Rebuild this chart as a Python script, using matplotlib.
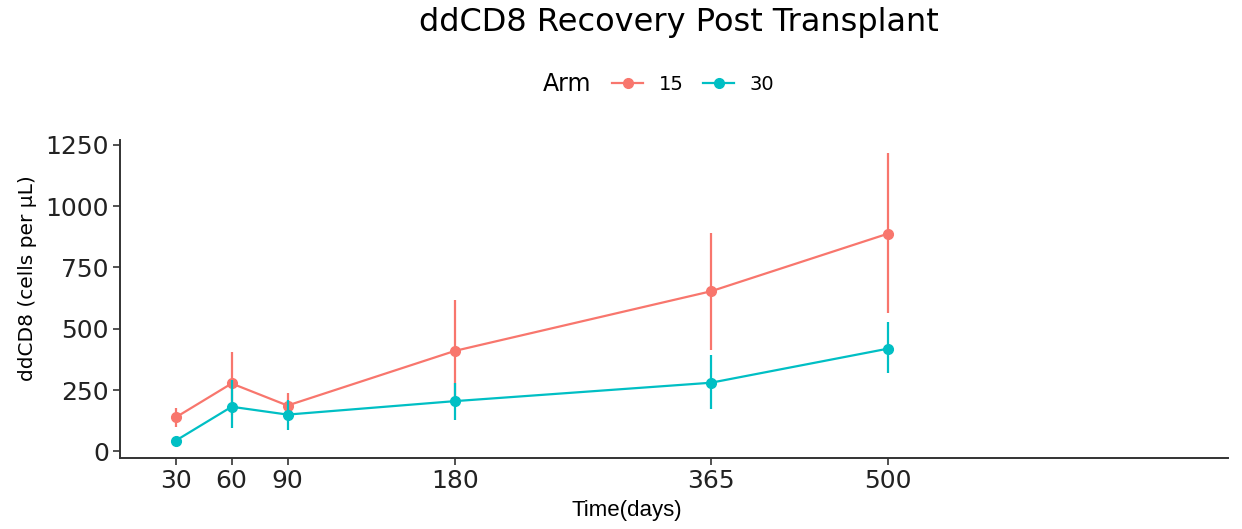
import numpy as np
import matplotlib.pyplot as plt
from matplotlib.lines import Line2D

plt.rcParams['font.family'] = ['DejaVu Sans']

# data
days = [30, 60, 90, 180, 365, 500]
tick_days = [30, 60, 90, 180, 365, 500]
arm15_mean = [139, 277, 187, 410, 653, 888]
arm15_lo = [98, 150, 150, 200, 413, 563]
arm15_hi = [177, 406, 239, 619, 891, 1216]
arm30_mean = [44, 182, 150, 205, 280, 419]
arm30_lo = [30, 96, 89, 127, 171, 318]
arm30_hi = [60, 290, 210, 280, 392, 526]
arms = ['15', '30']
colors = ['#F8766D', '#00BFC4']

# the time axis in the source is not linear: piecewise mapping
day_knots = [0, 180, 365, 500, 760]
pos_knots = [0, 335, 591, 768, 1108]


def fwd(x):
    return np.interp(x, day_knots, pos_knots)


def inv(x):
    return np.interp(x, pos_knots, day_knots)


fig = plt.figure(figsize=(12.42, 5.29), dpi=100)
ax = fig.add_axes([120 / 1242, 1 - 458 / 529, (1228 - 120) / 1242, (458 - 140) / 529])
ax.set_xscale('function', functions=(fwd, inv))

series = [(arm15_mean, arm15_lo, arm15_hi), (arm30_mean, arm30_lo, arm30_hi)]
for (m, lo, hi), c in zip(series, colors):
    ax.vlines(days, lo, hi, color=c, linewidth=1.6)
    ax.plot(days, m, color=c, linewidth=1.6, marker='o', markersize=7)

ax.set_xlim(0, 760)
ax.set_ylim(-27, 1270)
ax.set_xticks(tick_days)
ax.set_xticklabels([str(d) for d in tick_days])
ax.set_yticks([0, 250, 500, 750, 1000, 1250])
ax.minorticks_off()

for s in ['top', 'right']:
    ax.spines[s].set_visible(False)
for s in ['left', 'bottom']:
    ax.spines[s].set_linewidth(1.4)
    ax.spines[s].set_color('#333333')
ax.tick_params(axis='both', labelsize=18, length=5, width=1.2, color='#333333',
               labelcolor='#222222', pad=3)

ax.set_xlabel('Time(days)', fontsize=16, family='Liberation Sans', va='top')
ax.xaxis.set_label_coords((627 - 120) / 1108, -0.132)
ax.set_ylabel('ddCD8 (cells per µL)', fontsize=14.5)
ax.yaxis.set_label_coords((37 - 120) / 1108, 0.566)

fig.text(679 / 1242, 1 - 22 / 529, 'ddCD8 Recovery Post Transplant', ha='center', va='center',
         fontsize=23)

fig.text(543 / 1242, 1 - 84 / 529, 'Arm', ha='left', va='center', fontsize=17)
handles = [Line2D([0], [0], color=c, linewidth=1.6, marker='o', markersize=7) for c in colors]
fig.legend(handles, arms, loc='center left', bbox_to_anchor=(612 / 1242, 1 - 84 / 529),
           ncol=2, frameon=False, fontsize=14, handlelength=1.6, columnspacing=1.0,
           handletextpad=0.8, borderpad=0, borderaxespad=0)

fig.savefig('out.png', dpi=100)
